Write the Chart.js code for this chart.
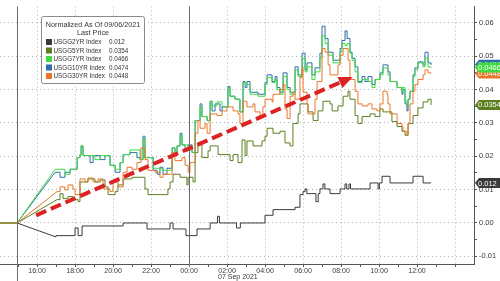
<!DOCTYPE html>
<html><head><meta charset="utf-8">
<script src="https://cdn.jsdelivr.net/npm/chart.js@4/dist/chart.umd.min.js"></script>
<style>html,body{margin:0;padding:0;background:#fff;overflow:hidden}#wrap{width:500px;height:281px}</style>
</head><body><div id="wrap"><canvas id="c" width="500" height="281"></canvas></div>
<script>
// ---------- data ----------
const seriesNames = ['USGG2YR Index','USGG5YR Index','USGG7YR Index','USGG10YR Index','USGG30YR Index'];
const seriesColors = ['#3a3a3a','#5b7f1f','#3fdc3f','#2f6cab','#e8772a'];
const legendTitle = ['Normalized As Of 09/06/2021','Last Price'];
const dateLabel = '07 Sep 2021';
const normStart = 14.95;       // hour when normalisation starts (flat before)
const xMinHour = 14.05, xMaxHour = 39.0;
const yMin = -0.0123, yMax = 0.0649;
const xTickHours = [15,16,17,18,19,20,21,22,23,24,25,26,27,28,29,30,31,32,33,34,35,36,37,38];
const yTickValues = [-0.01,-0.005,0,0.005,0.01,0.015,0.02,0.025,0.03,0.035,0.04,0.045,0.05,0.055,0.06];
const dayBreakHours = [24];
const arrowFrom = [15.95, 0.0023];
const arrowTo = [32.62, 0.0438];

// hours since 00:00 06 Sep (24 = 00:00 07 Sep), value
const usgg2yr = [[16.95,-0.0041],[17.0,-0.0038],[18.0,-0.0015],[18.16,-0.0038],[18.37,-0.0009],[20.53,0.0],[21.79,-0.0018],[23.0,0.0],[23.16,-0.0018],[23.84,-0.0038],[24.42,-0.0018],[25.11,0.0],[25.5,0.002],[25.6,0.0],[26.5,-0.0015],[26.7,0.0],[28.0,0.0023],[28.42,0.004],[29.58,0.0047],[29.84,0.0085],[30.0,0.0094],[30.11,0.0102],[30.2,0.0088],[30.68,0.0064],[30.8,0.0088],[30.89,0.0102],[31.05,0.0117],[31.15,0.0102],[31.42,0.0088],[31.95,0.0102],[32.21,0.0117],[32.3,0.0102],[32.42,0.0117],[32.5,0.0102],[33.53,0.012],[33.95,0.0102],[34.02,0.012],[34.16,0.014],[34.58,0.012],[35.79,0.014],[36.32,0.012],[36.74,0.012]];

const usgg5yr = [[17.05,0.007],[17.21,0.0088],[17.37,0.0073],[17.63,0.0079],[17.89,0.007],[18.16,0.0064],[18.26,0.0123],[18.68,0.0132],[19.05,0.0123],[19.32,0.0129],[19.58,0.0108],[19.74,0.0085],[20.11,0.0094],[20.26,0.0114],[20.53,0.0132],[21.0,0.0137],[21.68,0.0102],[21.84,0.0085],[22.89,0.0102],[23.0,0.0123],[23.16,0.0146],[23.53,0.0137],[23.89,0.0114],[23.95,0.0137],[24.21,0.0123],[24.32,0.0211],[24.47,0.024],[24.68,0.0196],[25.0,0.0216],[25.11,0.0231],[25.53,0.0205],[26.0,0.0205],[26.16,0.0187],[26.32,0.0205],[26.58,0.0181],[26.79,0.0249],[26.95,0.0202],[27.05,0.0246],[27.37,0.0231],[27.84,0.0246],[28.0,0.026],[28.11,0.0284],[28.42,0.0269],[28.79,0.0275],[29.05,0.024],[29.32,0.0231],[29.47,0.0298],[29.74,0.0327],[29.84,0.0357],[30.26,0.0333],[30.53,0.0307],[30.79,0.0336],[31.05,0.0365],[31.42,0.0357],[31.53,0.0336],[31.84,0.0351],[32.11,0.038],[32.37,0.0395],[32.47,0.0371],[32.74,0.0322],[32.89,0.0298],[33.11,0.0319],[33.53,0.0327],[33.79,0.0319],[34.05,0.0342],[34.21,0.0333],[34.68,0.0304],[34.95,0.0289],[35.21,0.0275],[35.37,0.0263],[35.53,0.0298],[35.79,0.0322],[36.05,0.0345],[36.32,0.0363],[36.58,0.0371],[36.74,0.0354]];

const usgg7yr = [[16.95,0.0161],[17.47,0.0146],[17.74,0.0161],[18.11,0.0196],[18.26,0.0205],[18.32,0.0231],[18.42,0.0202],[19.05,0.019],[19.32,0.0202],[19.84,0.0173],[20.11,0.0161],[20.37,0.0181],[20.53,0.0205],[20.89,0.0219],[21.42,0.019],[21.58,0.0254],[21.68,0.0196],[22.11,0.0164],[22.58,0.0158],[23.11,0.0225],[23.26,0.0205],[23.37,0.0231],[23.53,0.0263],[23.63,0.0234],[23.95,0.0219],[24.16,0.0211],[24.32,0.0307],[24.58,0.0348],[24.68,0.0319],[24.95,0.0307],[25.11,0.0365],[25.21,0.0351],[25.47,0.0363],[25.74,0.0348],[26.05,0.0406],[26.16,0.038],[26.42,0.0371],[26.68,0.0333],[26.84,0.0421],[27.05,0.0415],[27.21,0.0386],[27.63,0.038],[28.0,0.0415],[28.11,0.0436],[28.37,0.0421],[28.53,0.043],[28.63,0.04],[28.79,0.0386],[28.95,0.0439],[29.16,0.04],[29.32,0.0386],[29.58,0.0459],[29.74,0.0439],[29.95,0.0494],[30.11,0.0453],[30.21,0.0468],[30.47,0.043],[30.63,0.0453],[30.89,0.0494],[31.0,0.0561],[31.16,0.0538],[31.32,0.0503],[31.58,0.048],[31.95,0.0512],[32.05,0.0538],[32.21,0.0532],[32.32,0.0538],[32.47,0.0509],[32.58,0.0488],[32.74,0.0453],[32.89,0.0421],[33.11,0.043],[33.42,0.0424],[33.63,0.0406],[33.79,0.043],[34.05,0.0444],[34.21,0.0465],[34.47,0.0444],[34.58,0.0424],[34.95,0.0406],[35.21,0.0392],[35.26,0.0406],[35.37,0.0365],[35.47,0.0351],[35.53,0.0371],[35.63,0.0395],[35.79,0.0439],[35.89,0.0459],[36.05,0.048],[36.32,0.0468],[36.42,0.0494],[36.58,0.0468],[36.74,0.0466]];

const usgg10yr = [[16.95,0.0152],[17.21,0.0137],[17.47,0.0152],[17.74,0.0161],[18.11,0.0196],[18.26,0.0205],[18.32,0.0231],[18.42,0.0202],[18.79,0.0181],[18.95,0.0202],[19.32,0.019],[19.58,0.0202],[19.84,0.0173],[20.11,0.0152],[20.37,0.0181],[20.53,0.0205],[20.89,0.0211],[21.26,0.0196],[21.42,0.019],[21.58,0.026],[21.68,0.0196],[22.11,0.0158],[22.32,0.0146],[22.47,0.0167],[22.63,0.0146],[22.84,0.0164],[23.11,0.0225],[23.26,0.0205],[23.37,0.0231],[23.53,0.0269],[23.63,0.0234],[23.79,0.0216],[23.95,0.0234],[24.16,0.0211],[24.32,0.0307],[24.58,0.0357],[24.68,0.0319],[24.95,0.0307],[25.11,0.0365],[25.21,0.0336],[25.37,0.0357],[25.63,0.0336],[25.74,0.0348],[26.05,0.0409],[26.16,0.038],[26.42,0.0371],[26.68,0.0333],[26.84,0.0424],[26.95,0.0406],[27.05,0.0424],[27.21,0.0392],[27.63,0.0386],[28.0,0.0421],[28.11,0.0444],[28.37,0.0424],[28.53,0.0439],[28.63,0.0406],[28.79,0.0392],[28.95,0.045],[29.16,0.0406],[29.32,0.0392],[29.58,0.0468],[29.74,0.0444],[29.95,0.0509],[30.11,0.0459],[30.21,0.048],[30.47,0.0444],[30.63,0.0465],[30.89,0.0509],[31.0,0.059],[31.16,0.0553],[31.32,0.0512],[31.58,0.0488],[31.95,0.0523],[32.05,0.0547],[32.21,0.0576],[32.32,0.0553],[32.47,0.0512],[32.58,0.0494],[32.74,0.0468],[32.89,0.0424],[33.11,0.0439],[33.26,0.0424],[33.42,0.0439],[33.63,0.0415],[33.79,0.043],[34.05,0.045],[34.21,0.0474],[34.47,0.0453],[34.58,0.0424],[34.95,0.0406],[35.21,0.0386],[35.26,0.04],[35.37,0.0357],[35.47,0.0336],[35.53,0.0371],[35.63,0.0395],[35.79,0.0444],[35.89,0.0465],[36.05,0.0483],[36.32,0.0474],[36.42,0.0512],[36.58,0.048],[36.74,0.0474]];

const usgg30yr = [[17.05,0.0094],[17.21,0.0108],[17.47,0.0099],[17.63,0.0114],[17.89,0.0102],[18.0,0.0085],[18.26,0.0132],[18.53,0.0123],[18.68,0.0135],[18.95,0.0123],[19.21,0.0132],[19.47,0.0102],[19.84,0.0094],[20.0,0.0123],[20.26,0.0108],[20.53,0.0152],[20.74,0.0167],[21.0,0.0161],[21.26,0.0181],[21.47,0.0225],[21.68,0.019],[21.84,0.0158],[22.21,0.0152],[22.47,0.0137],[22.63,0.0146],[23.11,0.0211],[23.26,0.0187],[23.63,0.0196],[23.79,0.0173],[23.95,0.0152],[24.05,0.0181],[24.32,0.0269],[24.47,0.0307],[24.58,0.0284],[24.84,0.0298],[24.95,0.0269],[25.11,0.0327],[25.47,0.0322],[25.74,0.0336],[26.0,0.0348],[26.32,0.0336],[26.58,0.0327],[26.68,0.0298],[26.84,0.0365],[27.05,0.0348],[27.37,0.0357],[27.47,0.0333],[27.74,0.0319],[27.89,0.0348],[28.0,0.0371],[28.37,0.0363],[28.42,0.0386],[28.79,0.04],[28.95,0.0415],[29.05,0.0342],[29.16,0.0313],[29.32,0.038],[29.47,0.0392],[29.58,0.0371],[29.84,0.0436],[29.95,0.0465],[30.0,0.0392],[30.21,0.0357],[30.26,0.0327],[30.63,0.0371],[30.74,0.0424],[31.0,0.0523],[31.16,0.0512],[31.32,0.0474],[31.42,0.0444],[31.84,0.0474],[31.95,0.0503],[32.11,0.0523],[32.37,0.0488],[32.47,0.043],[32.74,0.0395],[32.89,0.0357],[33.11,0.0351],[33.42,0.0357],[33.63,0.0342],[33.89,0.0336],[34.05,0.0357],[34.21,0.0395],[34.42,0.0386],[34.47,0.0357],[34.58,0.0327],[34.95,0.0298],[35.21,0.0289],[35.26,0.0275],[35.47,0.0263],[35.53,0.0298],[35.63,0.0357],[35.79,0.0395],[35.89,0.0415],[36.05,0.043],[36.32,0.0444],[36.42,0.0459],[36.58,0.045],[36.74,0.0448]];

const allSeries = [usgg2yr, usgg5yr, usgg7yr, usgg10yr, usgg30yr];
// drawing priority (first = on top)
const drawOrder = [4, 2, 3, 1, 0];

// ---------- chart ----------
Chart.defaults.font.family = "'Liberation Sans', Arial, sans-serif";
const toXY = arr => arr.map(p => ({x: p[0], y: p[1]}));
const lastVal = arr => arr[arr.length - 1][1];
const fmtVal = v => String(+v.toFixed(4));

const datasets = [];
drawOrder.forEach((si, rank) => {
  const s = allSeries[si];
  datasets.push({
    label: seriesNames[si], data: toXY(s), borderColor: seriesColors[si],
    borderWidth: 1, pointRadius: 0, stepped: true, fill: false, order: rank * 2
  });
  datasets.push({
    label: seriesNames[si] + ' lead', data: [{x: xMinHour, y: 0}, {x: normStart, y: 0}, {x: s[0][0], y: s[0][1]}],
    borderColor: seriesColors[si], borderWidth: 1, pointRadius: 0, fill: false, tension: 0, order: rank * 2 + 1
  });
});

const gridCol = '#b4b4b4';
const axisCol = '#555';
const textCol = '#3a3a3a';

const overlay = {
  id: 'overlay',
  afterDatasetsDraw(chart) {
    const {ctx, chartArea: ca, scales: {x, y}} = chart;
    ctx.save();
    // solid vertical lines
    ctx.strokeStyle = '#6a6a6a'; ctx.lineWidth = 1;
    const xs = Math.round(x.getPixelForValue(normStart)) + 0.5;
    ctx.beginPath(); ctx.moveTo(xs, ca.top); ctx.lineTo(xs, chart.height); ctx.stroke();
    dayBreakHours.forEach(h => {
      const xp = Math.round(x.getPixelForValue(h)) + 0.5;
      ctx.beginPath(); ctx.moveTo(xp, ca.top); ctx.lineTo(xp, ca.bottom + 3); ctx.stroke();
    });
    // red dashed arrow
    const x1 = x.getPixelForValue(arrowFrom[0]), y1 = y.getPixelForValue(arrowFrom[1]);
    const x2 = x.getPixelForValue(arrowTo[0]), y2 = y.getPixelForValue(arrowTo[1]);
    const len = Math.hypot(x2 - x1, y2 - y1), ux = (x2 - x1) / len, uy = (y2 - y1) / len;
    const headL = 14, headW = 6;
    ctx.strokeStyle = '#dc2323'; ctx.fillStyle = '#dc2323';
    ctx.lineWidth = 4; ctx.setLineDash([11, 5]);
    ctx.beginPath(); ctx.moveTo(x1, y1); ctx.lineTo(x2 - ux * (headL - 2), y2 - uy * (headL - 2)); ctx.stroke();
    ctx.setLineDash([]);
    const bx = x2 - ux * headL, by = y2 - uy * headL;
    ctx.beginPath(); ctx.moveTo(x2, y2);
    ctx.lineTo(bx - uy * headW, by + ux * headW);
    ctx.lineTo(bx + uy * headW, by - ux * headW);
    ctx.closePath(); ctx.fill();
    ctx.restore();
  },
  afterDraw(chart) {
    const {ctx, chartArea: ca, scales: {x, y}} = chart;
    ctx.save();
    // date label under axis
    ctx.fillStyle = textCol; ctx.font = "7px 'Liberation Sans', Arial, sans-serif";
    ctx.textBaseline = 'middle'; ctx.textAlign = 'left';
    ctx.fillText(dateLabel, x.getPixelForValue(26) - 9, 277.5);

    // legend box
    const bx = 41.5, by = 16.5, bw = 103, bh = 67;
    ctx.fillStyle = '#fff'; ctx.strokeStyle = '#8a8a8a'; ctx.lineWidth = 1;
    ctx.beginPath(); ctx.roundRect(bx, by, bw, bh, 2); ctx.fill(); ctx.stroke();
    ctx.fillStyle = '#333'; ctx.font = "7.2px 'Liberation Sans', Arial, sans-serif";
    ctx.textAlign = 'center';
    ctx.fillText(legendTitle[0], bx + bw / 2, 25);
    ctx.fillText(legendTitle[1], bx + bw / 2, 33.5);
    ctx.textAlign = 'left';
    ctx.font = "6.3px 'Liberation Sans', Arial, sans-serif";
    seriesNames.forEach((n, i) => {
      const ry = 42 + i * 8.5;
      ctx.fillStyle = seriesColors[i];
      ctx.fillRect(46, ry - 3, 6, 6);
      ctx.fillStyle = '#333';
      ctx.fillText(n, 53.5, ry + 0.5);
      ctx.fillText(fmtVal(lastVal(allSeries[i])), 109, ry + 0.5);
    });

    // value tags on right axis
    const tagOrder = [4, 3, 2, 1, 0];
    ctx.font = "7.5px 'Liberation Sans', Arial, sans-serif";
    tagOrder.forEach(i => {
      const v = lastVal(allSeries[i]);
      const ty = y.getPixelForValue(v);
      const lx = ca.right;
      ctx.fillStyle = seriesColors[i];
      ctx.beginPath();
      ctx.moveTo(lx + 1, ty);
      ctx.lineTo(lx + 5, ty - 5);
      ctx.lineTo(500, ty - 5);
      ctx.lineTo(500, ty + 5);
      ctx.lineTo(lx + 5, ty + 5);
      ctx.closePath(); ctx.fill();
      ctx.fillStyle = '#fff';
      ctx.fillText(fmtVal(v), lx + 4, ty + 0.5);
    });
    ctx.restore();
  }
};

new Chart(document.getElementById('c'), {
  type: 'line',
  data: {datasets},
  options: {
    responsive: false, animation: false, events: [],
    layout: {padding: 0},
    plugins: {legend: {display: false}, tooltip: {enabled: false}},
    scales: {
      x: {
        type: 'linear', min: xMinHour, max: xMaxHour,
        afterBuildTicks: s => { s.ticks = xTickHours.map(v => ({value: v})); },
        afterFit: s => { s.height = 17; },
        ticks: {
          autoSkip: false, maxRotation: 0, padding: 0, color: textCol,
          font: {size: 7},
          callback: v => (v % 2 === 0 && v >= 16 && v <= 36) ? String(v % 24).padStart(2, '0') + ':00' : ''
        },
        grid: {
          color: c => (c.tick && c.tick.value % 2 === 0) ? gridCol : 'rgba(0,0,0,0)',
          tickColor: axisCol, tickLength: 3, lineWidth: 1
        },
        border: {display: true, color: axisCol, width: 1, dash: [1, 3]}
      },
      y: {
        type: 'linear', position: 'right', min: yMin, max: yMax,
        afterBuildTicks: s => { s.ticks = yTickValues.map(v => ({value: v})); },
        afterFit: s => { s.width = 26; },
        ticks: {
          padding: 2, color: textCol, font: {size: 7.5},
          callback: v => { const k = Math.round(v * 1000); return k % 10 === 0 ? (k / 1000).toFixed(2) : ''; }
        },
        grid: {
          color: c => (c.tick && Math.round(c.tick.value * 1000) % 10 === 0) ? gridCol : 'rgba(0,0,0,0)',
          tickColor: axisCol, tickLength: 3, lineWidth: 1
        },
        border: {display: true, color: axisCol, width: 1, dash: [1, 3]}
      }
    }
  },
  plugins: [overlay]
});
</script>
</body></html>
